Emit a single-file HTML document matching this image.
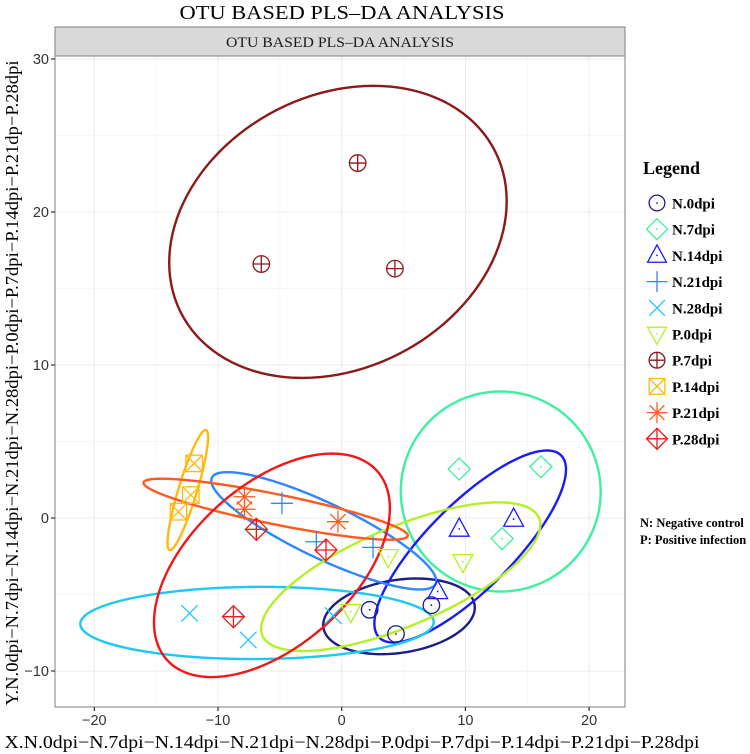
<!DOCTYPE html>
<html><head><meta charset="utf-8">
<style>
html,body{margin:0;padding:0;background:#fff;}
svg{display:block;}
text{font-family:"Liberation Serif",serif;}
</style></head>
<body>
<svg id="chart" width="750" height="754" viewBox="0 0 750 754" xmlns="http://www.w3.org/2000/svg">
  <text x="342" y="19" text-anchor="middle" font-size="20" textLength="325" lengthAdjust="spacingAndGlyphs">OTU BASED PLS–DA ANALYSIS</text>
  <rect x="55" y="27" width="570" height="29" fill="#d9d9d9" stroke="#7f7f7f" stroke-width="1"/>
  <text x="340" y="47" text-anchor="middle" font-size="15" fill="#1a1a1a" textLength="228" lengthAdjust="spacingAndGlyphs">OTU BASED PLS–DA ANALYSIS</text>
  <g id="grid"></g>
  <g id="ellipses"></g>
  <g id="points"></g>
  <rect x="55" y="56" width="570" height="651" fill="none" stroke="#7f7f7f" stroke-width="1"/>
  <g id="axes"></g>
  <text x="352" y="748" text-anchor="middle" font-size="18" textLength="695" lengthAdjust="spacingAndGlyphs">X.N.0dpi−N.7dpi−N.14dpi−N.21dpi−N.28dpi−P.0dpi−P.7dpi−P.14dpi−P.21dpi−P.28dpi</text>
  <text transform="translate(18,383) rotate(-90)" text-anchor="middle" font-size="18" textLength="645" lengthAdjust="spacingAndGlyphs">Y.N.0dpi−N.7dpi−N.14dpi−N.21dpi−N.28dpi−P.0dpi−P.7dpi−P.14dpi−P.21dp−P.28dpi</text>
  <g id="legend">
    <text x="643" y="174" font-size="18" font-weight="bold">Legend</text>
  </g>
  <text x="640" y="527" font-size="12.5" font-weight="bold">N: Negative control</text>
  <text x="640" y="544" font-size="12.5" font-weight="bold">P: Positive infection</text>
</svg>
<script>
const groups = ["N.0dpi","N.7dpi","N.14dpi","N.21dpi","N.28dpi","P.0dpi","P.7dpi","P.14dpi","P.21dpi","P.28dpi"];
const colors = ["#1c1c8a","#3ef0a0","#1a1aff","#2f86ff","#1ec8f5","#b4f028","#8b1a1a","#ffb90f","#ff5a1f","#f01818"];
const shapes = ["circle","diamond","triangle","plus","cross","tridown","circleplus","squarex","asterisk","diamondplus"];
const xVals = [
  [2.26, 7.25, 4.39],
  [9.5, 16.1, 12.97],
  [9.5, 13.9, 7.76],
  [-4.83, -2.05, 2.53],
  [-12.3, -7.55, -0.69],
  [3.77, 9.8, 0.74],
  [1.29, -6.5, 4.3],
  [-11.93, -12.2, -13.2],
  [-7.86, -7.86, -0.3],
  [-6.9, -1.27, -8.75]
];
const yVals = [
  [-6.0, -5.7, -7.58],
  [3.2, 3.35, -1.35],
  [-0.72, -0.07, -4.8],
  [0.96, -1.55, -1.92],
  [-6.23, -7.97, -6.38],
  [-2.53, -2.86, -6.12],
  [23.2, 16.6, 16.3],
  [3.57, 1.5, 0.41],
  [1.39, 0.57, -0.24],
  [-0.74, -2.09, -6.45]
];
const xTicks = [-20,-10,0,10,20];
const yTicks = [-10,0,10,20,30];

const NS="http://www.w3.org/2000/svg";
const X0=55, X1=625, Y0=56, Y1=707;
function sx(v){ return 341.7 + 12.37*v; }
function sy(v){ return 518 - 15.3*v; }
function mk(tag, attrs, parent){
  const e=document.createElementNS(NS,tag);
  for(const k in attrs) e.setAttribute(k, attrs[k]);
  parent.appendChild(e); return e;
}
const grid=document.getElementById('grid');
const axes=document.getElementById('axes');
for(let i=0;i<xTicks.length-1;i++){
  const m=(xTicks[i]+xTicks[i+1])/2;
  const l=mk('line',{x1:sx(m),x2:sx(m),y1:Y0,y2:Y1,stroke:'#f5f5f5','stroke-width':0.8},grid);
  
  
}
for(let i=0;i<yTicks.length-1;i++){
  const m=(yTicks[i]+yTicks[i+1])/2;
  const l=mk('line',{x1:X0,x2:X1,y1:sy(m),y2:sy(m),stroke:'#f5f5f5','stroke-width':0.8},grid);
  
  
}
xTicks.forEach(t=>{
  const l=mk('line',{x1:sx(t),x2:sx(t),y1:Y0,y2:Y1,stroke:'#ebebeb','stroke-width':1},grid);
  
  
  const tk=mk('line',{x1:sx(t),x2:sx(t),y1:Y1,y2:Y1+4,stroke:'#333','stroke-width':1.2},axes);
  
  
  const tx=mk('text',{x:sx(t),y:Y1+18,'text-anchor':'middle','font-size':14.5,fill:'#333'},axes);
  
  
  tx.style.fontFamily='"Liberation Sans",sans-serif';
  tx.textContent=(t<0?'−':'')+Math.abs(t);
});
yTicks.forEach(t=>{
  const l=mk('line',{x1:X0,x2:X1,y1:sy(t),y2:sy(t),stroke:'#ebebeb','stroke-width':1},grid);
  
  
  const tk=mk('line',{x1:X0-4,x2:X0,y1:sy(t),y2:sy(t),stroke:'#333','stroke-width':1.2},axes);
  
  
  const tx=mk('text',{x:X0-6,y:sy(t)+5,'text-anchor':'end','font-size':14.5,fill:'#333'},axes);
  
  
  tx.style.fontFamily='"Liberation Sans",sans-serif';
  tx.textContent=(t<0?'−':'')+Math.abs(t);
});

const ellG=document.getElementById('ellipses');
const K=Math.sqrt(5.991);
groups.forEach((g,i)=>{
  const xs=xVals[i], ys=yVals[i], n=xs.length;
  const mx=xs.reduce((a,b)=>a+b,0)/n, my=ys.reduce((a,b)=>a+b,0)/n;
  let sxx=0,syy=0,sxy=0;
  for(let j=0;j<n;j++){ sxx+=(xs[j]-mx)**2; syy+=(ys[j]-my)**2; sxy+=(xs[j]-mx)*(ys[j]-my); }
  sxx/=(n-1); syy/=(n-1); sxy/=(n-1);
  const a=Math.sqrt(sxx), b=sxy/a, c=Math.sqrt(Math.max(syy-b*b,1e-9));
  let d='';
  for(let k=0;k<=120;k++){
    const t=k/120*2*Math.PI, u=Math.cos(t), w=Math.sin(t);
    const px=mx+K*(a*u), py=my+K*(b*u+c*w);
    d+=(k?'L':'M')+sx(px).toFixed(2)+','+sy(py).toFixed(2);
  }
  const p=mk('path',{d:d+'Z',fill:'none',stroke:colors[i],'stroke-width':2.4},ellG);
  
  
});

function drawShape(parent, shape, cx, cy, col, s){
  const g=mk('g',{fill:'none',stroke:col,'stroke-width':1.3},parent);
  const h=s/2;
  const dot=()=>mk('circle',{cx:cx,cy:cy,r:0.9,fill:col,stroke:'none'},g);
  switch(shape){
    case 'circle': mk('circle',{cx:cx,cy:cy,r:h*0.75},g); dot(); break;
    case 'diamond': mk('polygon',{points:`${cx},${cy-h} ${cx+h},${cy} ${cx},${cy+h} ${cx-h},${cy}`},g); dot(); break;
    case 'triangle': mk('polygon',{points:`${cx},${cy-h} ${cx+h*0.9},${cy+h*0.65} ${cx-h*0.9},${cy+h*0.65}`},g); dot(); break;
    case 'tridown': mk('polygon',{points:`${cx},${cy+h} ${cx+h*0.9},${cy-h*0.65} ${cx-h*0.9},${cy-h*0.65}`},g); dot(); break;
    case 'plus': mk('path',{d:`M${cx-h},${cy}H${cx+h}M${cx},${cy-h}V${cy+h}`},g); break;
    case 'cross': mk('path',{d:`M${cx-h*0.75},${cy-h*0.75}L${cx+h*0.75},${cy+h*0.75}M${cx-h*0.75},${cy+h*0.75}L${cx+h*0.75},${cy-h*0.75}`},g); break;
    case 'circleplus': mk('circle',{cx:cx,cy:cy,r:h*0.75},g); mk('path',{d:`M${cx-h*0.75},${cy}H${cx+h*0.75}M${cx},${cy-h*0.75}V${cy+h*0.75}`},g); break;
    case 'squarex': mk('rect',{x:cx-h*0.75,y:cy-h*0.75,width:h*1.5,height:h*1.5},g); mk('path',{d:`M${cx-h*0.75},${cy-h*0.75}L${cx+h*0.75},${cy+h*0.75}M${cx-h*0.75},${cy+h*0.75}L${cx+h*0.75},${cy-h*0.75}`},g); break;
    case 'asterisk': mk('path',{d:`M${cx-h},${cy}H${cx+h}M${cx},${cy-h}V${cy+h}M${cx-h*0.7},${cy-h*0.7}L${cx+h*0.7},${cy+h*0.7}M${cx-h*0.7},${cy+h*0.7}L${cx+h*0.7},${cy-h*0.7}`},g); break;
    case 'diamondplus': mk('polygon',{points:`${cx},${cy-h} ${cx+h},${cy} ${cx},${cy+h} ${cx-h},${cy}`},g); mk('path',{d:`M${cx-h},${cy}H${cx+h}M${cx},${cy-h}V${cy+h}`},g); break;
  }
  return g;
}
const ptG=document.getElementById('points');
groups.forEach((g,i)=>{
  xVals[i].forEach((xv,j)=>{
    const e=drawShape(ptG, shapes[i], sx(xv), sy(yVals[i][j]), colors[i], 22);
    
    
  });
});
const legG=document.getElementById('legend');
groups.forEach((g,i)=>{
  const y=203+26.2*i;
  const e=drawShape(legG, shapes[i], 657, y, colors[i], 21);
  
  
  const t=mk('text',{x:672,y:y+5.5,'font-size':15,'font-weight':'bold'},legG);
  
  
  t.textContent=g;
});
</script>
</body></html>
